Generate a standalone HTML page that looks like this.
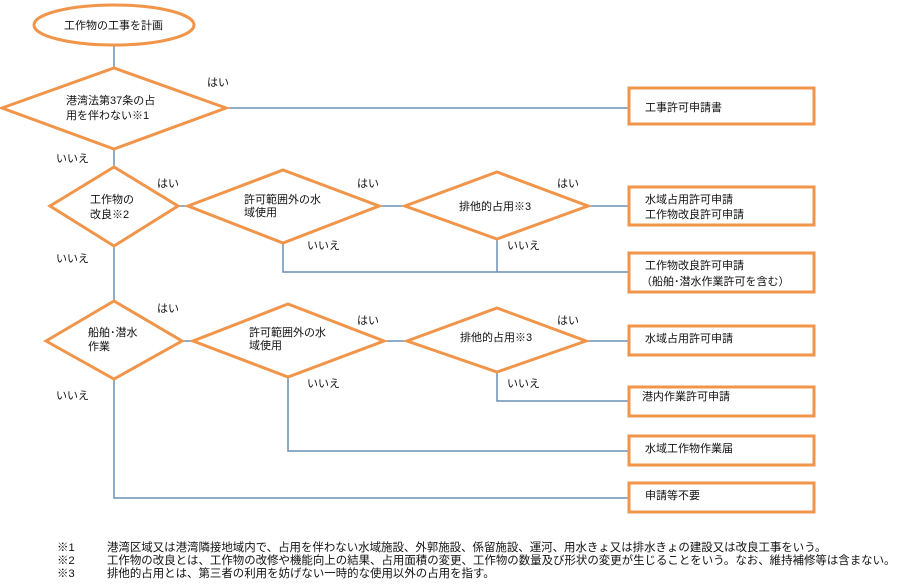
<!DOCTYPE html>
<html><head><meta charset="utf-8"><style>
html,body{margin:0;padding:0;background:#fff;}
svg text{font-family:"Liberation Sans","Noto Sans CJK JP",sans-serif;font-size:11px;fill:#111;}
svg text.fn{font-size:11.45px;}
</style></head><body>
<svg width="900" height="579" viewBox="0 0 900 579" xmlns="http://www.w3.org/2000/svg">
<g stroke="#6a8fb5" stroke-width="1.5" fill="none">
<line x1="114" y1="45" x2="114" y2="68"/>
<line x1="226" y1="108" x2="629" y2="108"/>
<line x1="114" y1="149" x2="114" y2="167"/>
<line x1="178" y1="206" x2="188" y2="206"/>
<line x1="379" y1="206" x2="405" y2="206"/>
<line x1="588" y1="206" x2="629" y2="206"/>
<polyline points="283,243 283,272 629,272"/>
<line x1="497" y1="239" x2="497" y2="272"/>
<line x1="114" y1="246" x2="114" y2="301"/>
<line x1="182" y1="341" x2="193" y2="341"/>
<line x1="384" y1="341" x2="407" y2="341"/>
<line x1="586" y1="341" x2="629" y2="341"/>
<polyline points="497,372 497,401 629,401"/>
<polyline points="288,377 288,451 629,451"/>
<polyline points="114,379 114,498 629,498"/>
</g>
<g stroke="#f0954a" stroke-width="3" fill="#fff">
<ellipse cx="114" cy="25" rx="80" ry="20"/>
<polygon points="2,108 114,68 226,108 114,149"/>
<polygon points="50,206 114,167 178,206 114,246"/>
<polygon points="188,206 283,170 379,206 283,243"/>
<polygon points="405,206 497,172 588,206 497,239"/>
<polygon points="46,341 114,301 182,341 114,379"/>
<polygon points="193,341 288,304 384,341 288,377"/>
<polygon points="407,341 497,308 586,341 497,372"/>
<rect x="629" y="88" width="185" height="36"/>
<rect x="629" y="187" width="185" height="38"/>
<rect x="629" y="253" width="185" height="39"/>
<rect x="629" y="326" width="185" height="29"/>
<rect x="629" y="387" width="185" height="29"/>
<rect x="629" y="436" width="185" height="29"/>
<rect x="629" y="483" width="185" height="29"/>
</g>
<text x="64" y="29">工作物の工事を計画</text>
<text x="66" y="104">港湾法第37条の占</text>
<text x="66" y="119">用を伴わない※1</text>
<text x="90" y="203">工作物の</text>
<text x="90" y="218">改良※2</text>
<text x="244" y="203">許可範囲外の水</text>
<text x="244" y="216">域使用</text>
<text x="459" y="210">排他的占用※3</text>
<text x="88" y="336">船舶･潜水</text>
<text x="88" y="350">作業</text>
<text x="249" y="336">許可範囲外の水</text>
<text x="249" y="349">域使用</text>
<text x="460" y="341">排他的占用※3</text>
<text x="645" y="111">工事許可申請書</text>
<text x="645" y="203">水域占用許可申請</text>
<text x="645" y="218">工作物改良許可申請</text>
<text x="645" y="269">工作物改良許可申請</text>
<text x="641" y="285">（船舶･潜水作業許可を含む）</text>
<text x="645" y="342">水域占用許可申請</text>
<text x="642" y="400">港内作業許可申請</text>
<text x="645" y="452">水域工作物作業届</text>
<text x="645" y="499">申請等不要</text>
<text x="207" y="86">はい</text>
<text x="56" y="162">いいえ</text>
<text x="157" y="187">はい</text>
<text x="357" y="187">はい</text>
<text x="557" y="187">はい</text>
<text x="307" y="249">いいえ</text>
<text x="507" y="249">いいえ</text>
<text x="56" y="262">いいえ</text>
<text x="157" y="312">はい</text>
<text x="357" y="324">はい</text>
<text x="557" y="324">はい</text>
<text x="307" y="387">いいえ</text>
<text x="507" y="387">いいえ</text>
<text x="56" y="399">いいえ</text>
<text class="fn" x="57" y="551">※1</text><text class="fn" x="107" y="551">港湾区域又は港湾隣接地域内で、占用を伴わない水域施設、外郭施設、係留施設、運河、用水きょ又は排水きょの建設又は改良工事をいう。</text>
<text class="fn" x="57" y="564">※2</text><text class="fn" x="107" y="564">工作物の改良とは、工作物の改修や機能向上の結果、占用面積の変更、工作物の数量及び形状の変更が生じることをいう。なお、維持補修等は含まない。</text>
<text class="fn" x="57" y="577">※3</text><text class="fn" x="107" y="577">排他的占用とは、第三者の利用を妨げない一時的な使用以外の占用を指す。</text>
</svg>
</body></html>
